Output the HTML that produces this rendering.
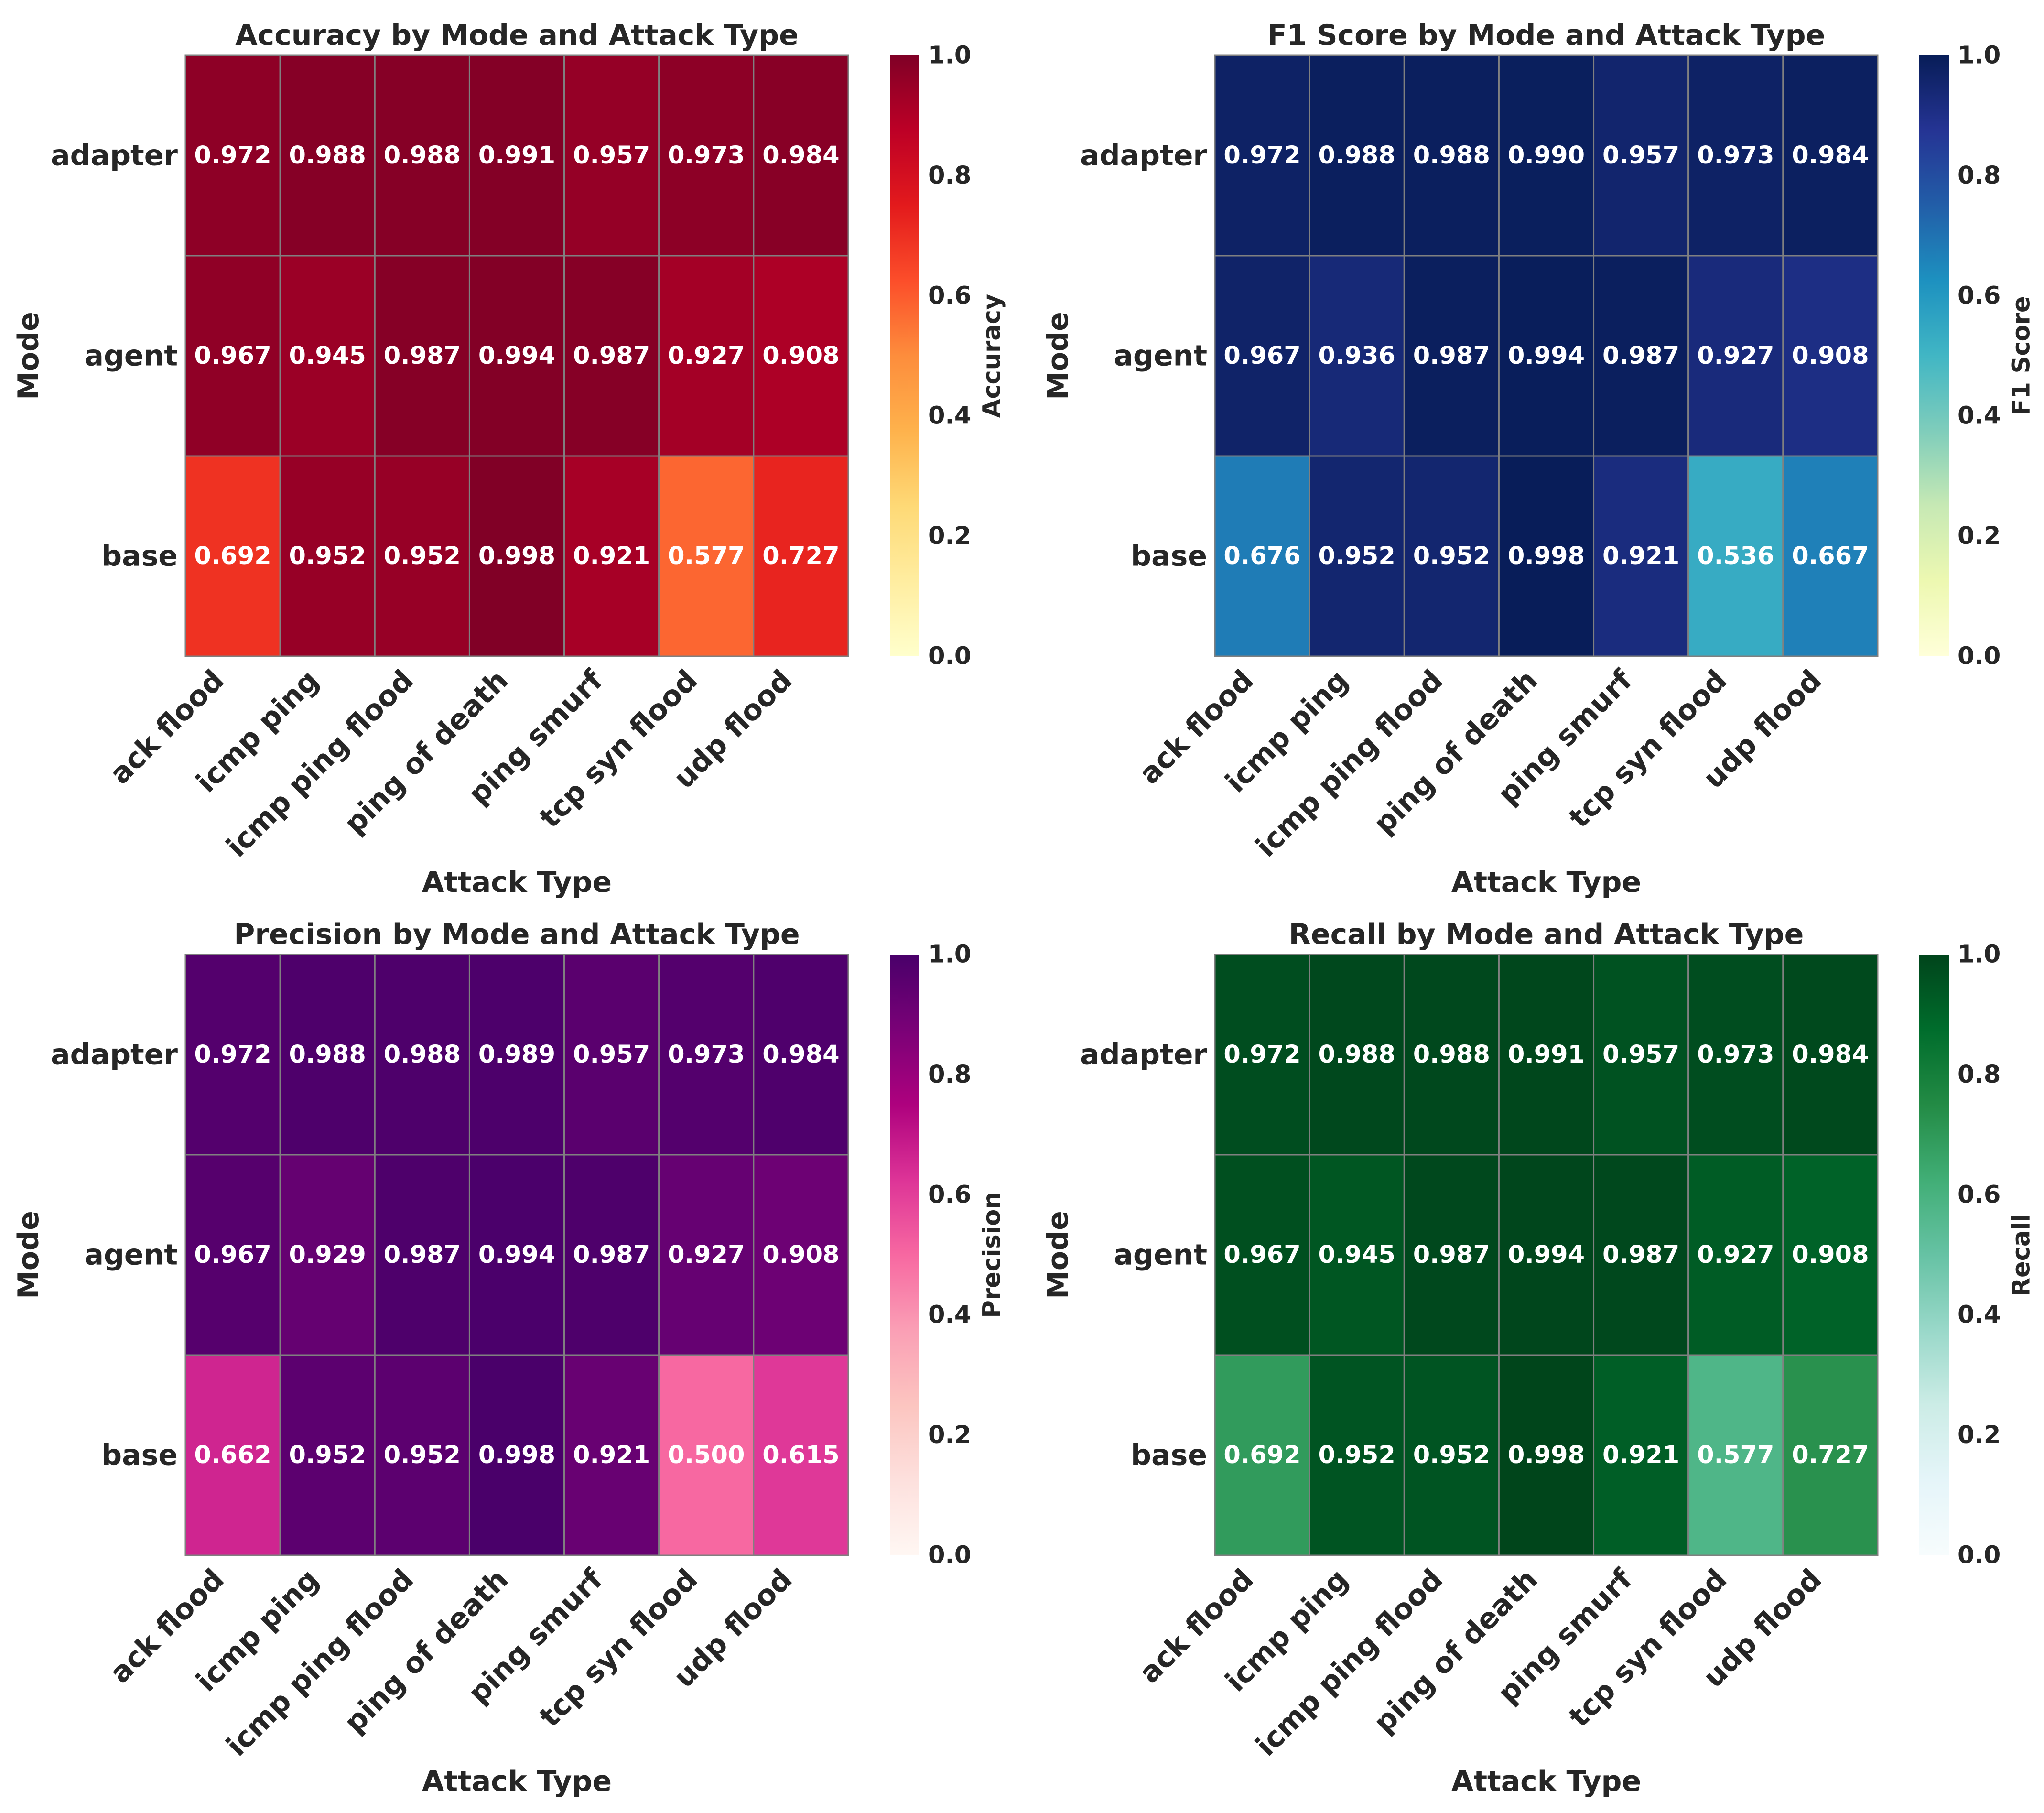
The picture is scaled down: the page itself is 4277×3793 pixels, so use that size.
<!DOCTYPE html>
<html><head><meta charset="utf-8">
<style>
html,body{margin:0;padding:0;background:#fff;}
svg{display:block;}
text{font-family:"DejaVu Sans","Liberation Sans",sans-serif;font-weight:bold;fill:#262626;}
</style></head>
<body>
<svg id="fig" width="4277" height="3793" viewBox="0 0 4277 3793" xmlns="http://www.w3.org/2000/svg"></svg>
<script>
const modes = ["adapter","agent","base"];
const attacks = ["ack flood","icmp ping","icmp ping flood","ping of death","ping smurf","tcp syn flood","udp flood"];
const cbarTicks = [0.0,0.2,0.4,0.6,0.8,1.0];
const accuracyValues = [
  [0.972,0.988,0.988,0.991,0.957,0.973,0.984],
  [0.967,0.945,0.987,0.994,0.987,0.927,0.908],
  [0.692,0.952,0.952,0.998,0.921,0.577,0.727]];
const f1Values = [
  [0.972,0.988,0.988,0.990,0.957,0.973,0.984],
  [0.967,0.936,0.987,0.994,0.987,0.927,0.908],
  [0.676,0.952,0.952,0.998,0.921,0.536,0.667]];
const precisionValues = [
  [0.972,0.988,0.988,0.989,0.957,0.973,0.984],
  [0.967,0.929,0.987,0.994,0.987,0.927,0.908],
  [0.662,0.952,0.952,0.998,0.921,0.500,0.615]];
const recallValues = [
  [0.972,0.988,0.988,0.991,0.957,0.973,0.984],
  [0.967,0.945,0.987,0.994,0.987,0.927,0.908],
  [0.692,0.952,0.952,0.998,0.921,0.577,0.727]];

const CMAPS = {
  YlOrRd:["#ffffcc","#ffeda0","#fed976","#feb24c","#fd8d3c","#fc4e2a","#e31a1c","#bd0026","#800026"],
  YlGnBu:["#ffffd9","#edf8b1","#c7e9b4","#7fcdbb","#41b6c4","#1d91c0","#225ea8","#253494","#081d58"],
  RdPu:["#fff7f3","#fde0dd","#fcc5c0","#fa9fb5","#f768a1","#dd3497","#ae017e","#7a0177","#49006a"],
  BuGn:["#f7fcfd","#e5f5f9","#ccece6","#99d8c9","#66c2a4","#41ae76","#238b45","#006d2c","#00441b"]
};
function hex2rgb(h){return [parseInt(h.substr(1,2),16),parseInt(h.substr(3,2),16),parseInt(h.substr(5,2),16)];}
function cmap(name,v){
  const c=CMAPS[name]; const t=Math.max(0,Math.min(1,v))*(c.length-1);
  const i=Math.min(Math.floor(t),c.length-2); const f=t-i;
  const a=hex2rgb(c[i]), b=hex2rgb(c[i+1]);
  return "rgb("+a.map((x,k)=>Math.round(x+(b[k]-x)*f)).join(",")+")";
}
const NS="http://www.w3.org/2000/svg";
const svg=document.getElementById("fig");
function mk(tag,attrs,parent){const e=document.createElementNS(NS,tag);for(const k in attrs)e.setAttribute(k,attrs[k]);(parent||svg).appendChild(e);return e;}
const defs=mk("defs",{});

const panels=[
  {key:"accuracy",title:"Accuracy by Mode and Attack Type",label:"Accuracy",cm:"YlOrRd",vals:accuracyValues,dx:0,dy:0},
  {key:"f1",title:"F1 Score by Mode and Attack Type",label:"F1 Score",cm:"YlGnBu",vals:f1Values,dx:2154,dy:0},
  {key:"precision",title:"Precision by Mode and Attack Type",label:"Precision",cm:"RdPu",vals:precisionValues,dx:0,dy:1881},
  {key:"recall",title:"Recall by Mode and Attack Type",label:"Recall",cm:"BuGn",vals:recallValues,dx:2154,dy:1881}
];
const L=388,T=116,W=1387,H=1257;
const CBX=1862,CBW=62;

panels.forEach(p=>{
  const g=mk("g",{transform:"translate("+p.dx+","+p.dy+")"});
  
  
  const cw=W/attacks.length, rh=H/modes.length;
  const xPos=j=>L+j*cw, yPos=i=>T+i*rh;
  // cells
  p.vals.forEach((row,i)=>row.forEach((v,j)=>{
    const r=mk("rect",{x:xPos(j),y:yPos(i),width:cw,height:rh,fill:cmap(p.cm,v),stroke:"#808080","stroke-width":3},g);
    
    
    const t=mk("text",{x:xPos(j)+cw/2,y:yPos(i)+rh/2,"text-anchor":"middle","dominant-baseline":"central","font-size":51,style:"fill:#fff"},g);
    t.textContent=v.toFixed(3);
    
    
  }));
  // title
  const ti=mk("text",{x:L+W/2,y:94,"text-anchor":"middle","font-size":60},g);
  ti.textContent=p.title;
  
  
  // y tick labels
  modes.forEach((m,i)=>{
    const t=mk("text",{x:372,y:yPos(i)+rh/2,"text-anchor":"end","dominant-baseline":"central","font-size":60},g);
    t.textContent=m;
    
    
  });
  // y axis title
  const ya=mk("text",{x:0,y:0,"text-anchor":"middle","dominant-baseline":"central","font-size":60,transform:"translate(60,"+(T+H/2)+") rotate(-90)"},g);
  ya.textContent="Mode";
  
  
  // x tick labels
  attacks.forEach((a,j)=>{
    const ex=xPos(j)+cw/2-15, ey=T+H+54;
    const t=mk("text",{x:0,y:0,"text-anchor":"end","font-size":60,transform:"translate("+ex+","+ey+") rotate(-45)"},g);
    t.textContent=a;
    
    
  });
  // x axis title
  const xa=mk("text",{x:L+W/2,y:1866,"text-anchor":"middle","font-size":60},g);
  xa.textContent="Attack Type";
  
  
  // colorbar
  const gid="grad-"+p.key;
  const lg=mk("linearGradient",{id:gid,x1:0,y1:1,x2:0,y2:0},defs);
  CMAPS[p.cm].forEach((c,k,arr)=>mk("stop",{offset:(k/(arr.length-1)),"stop-color":c},lg));
  const cb=mk("rect",{x:CBX,y:T,width:CBW,height:H,fill:"url(#"+gid+")"},g);
  
  
  cbarTicks.forEach(v=>{
    const t=mk("text",{x:CBX+CBW+18,y:T+H-v*H,"dominant-baseline":"central","font-size":51},g);
    t.textContent=v.toFixed(1);
    
    
  });
  const cl=mk("text",{x:0,y:0,"text-anchor":"middle","dominant-baseline":"central","font-size":51,transform:"translate(2076,"+(T+H/2)+") rotate(-90)"},g);
  cl.textContent=p.label;
  
  
});
</script>
</body></html>
